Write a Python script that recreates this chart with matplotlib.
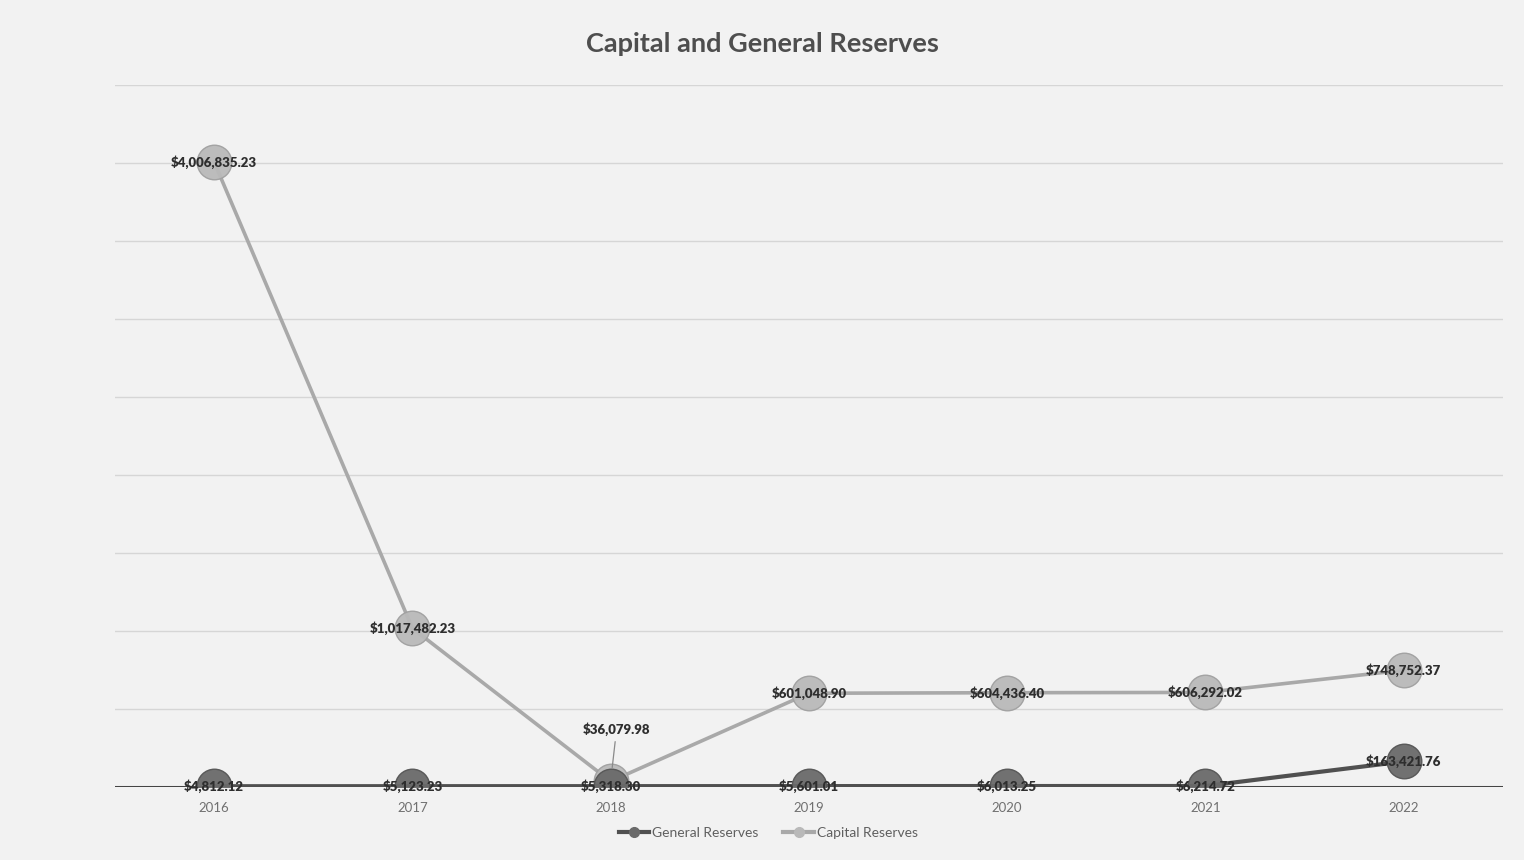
import matplotlib
matplotlib.use("Agg")
import matplotlib.pyplot as plt
from matplotlib.lines import Line2D

years = ["2016", "2017", "2018", "2019", "2020", "2021", "2022"]
general_reserves = [4812.12, 5123.23, 5318.30, 5601.01, 6013.25, 6214.72, 163421.76]
capital_reserves = [4006835.23, 1017482.23, 36079.98, 601048.90, 604436.40, 606292.02, 748752.37]

BG = "#f2f2f2"
GEN_LINE = "#505050"
GEN_MARK = "#6a6a6a"
CAP_LINE = "#a9a9a9"
CAP_MARK = "#b9b9b9"
TEXT = "#2e2e2e"

plt.rcParams["font.family"] = ["Lato", "DejaVu Sans"]

fig = plt.figure(figsize=(15.24, 8.6), dpi=100, facecolor=BG)
ax = fig.add_axes([0.0755, 0.0849, 0.9105, 0.8161])
ax.set_facecolor(BG)

x = list(range(len(years)))

# horizontal gridlines
for v in range(500000, 4500001, 500000):
    ax.axhline(v, color="#d6d6d6", lw=1.0, zorder=0)
ax.axhline(0, color="#454545", lw=2.2, zorder=1)

ax.plot(x, capital_reserves, color=CAP_LINE, lw=2.6, zorder=2)
ax.scatter(x, capital_reserves, s=620, color=CAP_MARK, edgecolor="#a0a0a0",
           linewidth=1.0, zorder=3, alpha=0.95)

ax.plot(x, general_reserves, color=GEN_LINE, lw=3.0, zorder=4)
ax.scatter(x, general_reserves, s=620, color=GEN_MARK, edgecolor="#555555",
           linewidth=1.0, zorder=5, alpha=0.95)

def money(v):
    return "${:,.2f}".format(v)

label_kw = dict(fontsize=9.5, fontweight="heavy", color=TEXT, ha="center",
                va="center", zorder=6)

for i, v in enumerate(capital_reserves):
    if years[i] == "2018":
        ax.annotate(money(v), xy=(i, v), xytext=(i + 0.03, 370000),
                    arrowprops=dict(arrowstyle="-", color="#8a8a8a", lw=0.9,
                                    shrinkA=2, shrinkB=10),
                    **label_kw)
    else:
        ax.text(i, v, money(v), **label_kw)

for i, v in enumerate(general_reserves):
    ax.text(i, v, money(v), **label_kw)

ax.set_xlim(-0.5, len(years) - 0.5)
ax.set_ylim(0, 4500000)
ax.set_xticks(x)
ax.set_xticklabels(years, fontsize=9.5, color="#707070")
ax.tick_params(axis="x", length=0, pad=11)
ax.set_yticks([])
for s in ax.spines.values():
    s.set_visible(False)

fig.text(0.5, 0.949, "Capital and General Reserves", ha="center", va="center",
         fontsize=19.5, fontweight="bold", color="#4e4e4e")

handles = [
    Line2D([0], [0], color=GEN_LINE, lw=3, marker="o", markersize=7,
           markerfacecolor=GEN_MARK, markeredgecolor=GEN_MARK),
    Line2D([0], [0], color=CAP_LINE, lw=3, marker="o", markersize=7,
           markerfacecolor=CAP_MARK, markeredgecolor=CAP_MARK),
]
fig.legend(handles, ["General Reserves", "Capital Reserves"], loc="center",
           bbox_to_anchor=(0.504, 0.031), ncol=2, frameon=False, fontsize=10,
           labelcolor="#606060", handlelength=2.2, handletextpad=0.2,
           columnspacing=1.8)

fig.savefig("out.png", dpi=100, facecolor=BG)
